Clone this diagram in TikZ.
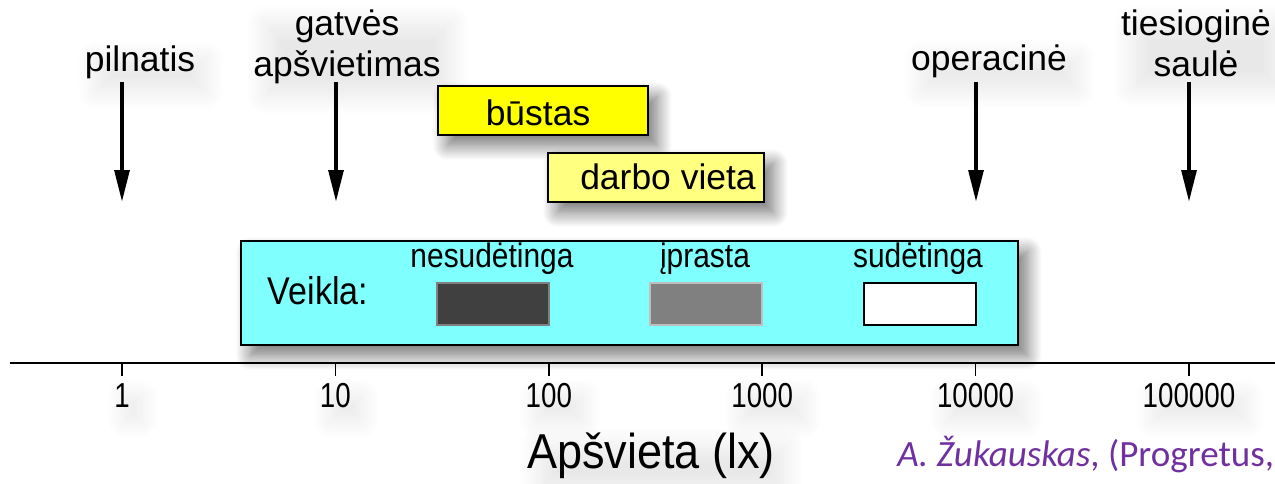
\documentclass[tikz,border=0pt]{standalone}
\usepackage{fontspec}
\setmainfont{Liberation Sans}
\newfontfamily\labf{Liberation Sans}
\newfontfamily\legf[FakeStretch=0.88]{Liberation Sans}
\newfontfamily\numf[FakeStretch=0.8]{Liberation Sans}
\newfontfamily\titf[FakeStretch=0.92]{Liberation Sans}
\newfontfamily\citf{Carlito}
\usetikzlibrary{arrows.meta,shadows.blur}
\definecolor{cyanbox}{HTML}{80FFFF}
\definecolor{ybright}{HTML}{FFFF00}
\definecolor{ylight}{HTML}{FFFF80}
\definecolor{citecol}{HTML}{7030A0}
\begin{document}
\begin{tikzpicture}[x=0.75pt,y=-0.75pt,
  tshad/.style={blur shadow={shadow xshift=8pt, shadow yshift=-10pt, shadow blur radius=14pt, shadow blur steps=20, shadow opacity=9}},
  boxtxt/.style={font=\labf\fontsize{26.6}{30.75}\selectfont, inner sep=0pt, anchor=base},
  lab/.style={boxtxt, align=center, tshad},
  leglab/.style={font=\legf\fontsize{25.5}{28}\selectfont, inner sep=0pt, anchor=base},
  numlab/.style={font=\numf\fontsize{26}{30}\selectfont, inner sep=0pt, anchor=base, tshad},
  shad/.style={blur shadow={shadow xshift=7pt, shadow yshift=-8pt, shadow blur radius=11pt, shadow blur steps=16, shadow opacity=55}},
  ybox/.style={draw=black, line width=2.2pt, minimum height={49*0.75pt}, inner sep=0pt, shad},
  legbox/.style={line width=2.2pt, minimum width={112*0.75pt}, minimum height={42*0.75pt}, inner sep=0pt},
  arr/.style={line width=3pt, -{Triangle[length=24pt,width=11pt]}},
  axis/.style={line width=1.8pt},
  tick/.style={line width=1.3pt}]
\useasboundingbox (0,0) rectangle (1275,483);

% top labels (drawn first so that shadows stay behind)
\node[lab] (p1) at (140,71) {pilnatis};
\node[lab] (p2) at (347,76) {gatvės\\apšvietimas};
\node[lab] (p3) at (989,70) {operacinė};
\node[lab] (p4) at (1196,76) {tiesioginė\\saulė};

% yellow boxes
\node[ybox, fill=ybright, minimum width={210*0.75pt}] (bbox) at (543,110.5) {};
\node[boxtxt] (btxt) at (538,125) {būstas};
\node[ybox, fill=ylight, minimum width={216*0.75pt}] (dbox) at (656,177.5) {};
\node[boxtxt] (dtxt) at (668,189) {darbo vieta};

% activity box
\node[draw=black, line width=1.5pt, fill=cyanbox, minimum width={777*0.75pt}, minimum height={104*0.75pt}, inner sep=0pt, shad] (vbox) at (629.5,293) {};
\node[font=\legf\fontsize{29}{32}\selectfont, inner sep=0pt, anchor=base] (veik) at (318,304) {Veikla:};
\node[leglab] (l1) at (492,267) {nesudėtinga};
\node[leglab] (l2) at (705,267) {įprasta};
\node[leglab] (l3) at (918,267) {sudėtinga};
\node[legbox, draw=black!50, fill=black!75] (r1) at (493,304) {};
\node[legbox, draw=black!25, fill=black!50] (r2) at (706,304) {};
\node[legbox, draw=black, fill=white] (r3) at (920,304) {};

% arrows
\coordinate (a1s) at (122,82);  \coordinate (a1e) at (122,202);
\coordinate (a2s) at (336,82);  \coordinate (a2e) at (336,202);
\coordinate (a3s) at (976,82);  \coordinate (a3e) at (976,202);
\coordinate (a4s) at (1189,82); \coordinate (a4e) at (1189,202);
\draw[arr] (a1s) -- (a1e);
\draw[arr] (a2s) -- (a2e);
\draw[arr] (a3s) -- (a3e);
\draw[arr] (a4s) -- (a4e);

% axis
\coordinate (axL) at (10,363);
\coordinate (axR) at (1275,363);
\draw[axis] (axL) -- (axR);
\foreach \x/\v [count=\i] in {122/1,335.4/10,548.8/100,762.2/1000,975.6/10000,1189/100000}{
  \coordinate (t\i) at (\x,363);
  \coordinate (tb\i) at (\x,376);
  \draw[tick] (t\i) -- (tb\i);
  \node[numlab] (n\i) at (\x,407) {\v};
}
\node[font=\titf\fontsize{36.75}{40}\selectfont, inner sep=0pt, anchor=base, tshad] (title) at (651,468) {Apšvieta (lx)};
\node[font=\citf\fontsize{27.8}{30}\selectfont, text=citecol, inner sep=0pt, anchor=base west] (cite) at (897,466) {\textit{A. Žukauskas}, (Progretus,};
\end{tikzpicture}
\end{document}
